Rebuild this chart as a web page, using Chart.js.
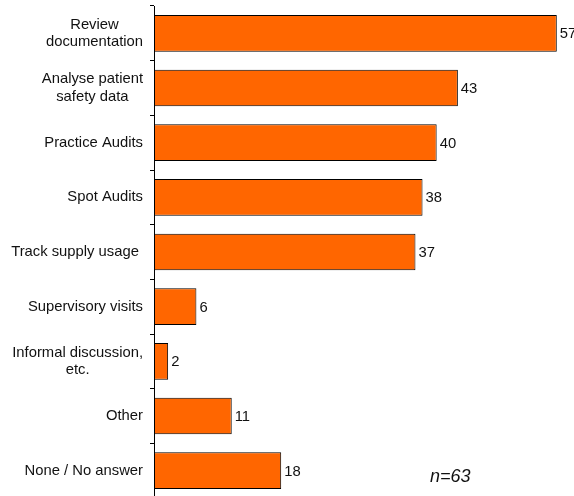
<!DOCTYPE html>
<html>
<head>
<meta charset="utf-8">
<script src="https://cdn.jsdelivr.net/npm/chart.js@4/dist/chart.umd.min.js"></script>
<style>
  html, body { margin: 0; padding: 0; background: #fff; overflow: hidden; }
  #wrap { width: 580px; height: 500px; }
</style>
</head>
<body>
<div id="wrap"><canvas id="activityChart"></canvas></div>
<script>
const categories = [
    ['Review', 'documentation'],
    ['Analyse patient', 'safety data'],
    'Practice Audits',
    'Spot Audits',
    'Track supply usage ',
    'Supervisory visits',
    ['Informal discussion,', 'etc.'],
    'Other',
    'None / No answer'
];
const counts = [57, 43, 40, 38, 37, 6, 2, 11, 18];
const sampleNote = 'n=63';

const labelFont = "'Liberation Sans', Arial, sans-serif";
const fontSize = 14.8;
const lineGap = 17.3;

// Category labels: block right-aligned to the axis, lines centred in the block
const categoryLabels = {
    id: 'categoryLabels',
    afterDraw(chart) {
        const ctx = chart.ctx;
        const yScale = chart.scales.y;
        const right = yScale.right - 4 - 7;
        ctx.save();
        ctx.font = `${fontSize}px ${labelFont}`;
        ctx.fillStyle = '#111';
        ctx.textAlign = 'center';
        ctx.textBaseline = 'middle';
        categories.forEach((label, i) => {
            const lines = Array.isArray(label) ? label : [label];
            const blockW = Math.max(...lines.map(l => ctx.measureText(l).width));
            const cx = right - blockW / 2;
            const y0 = yScale.getPixelForTick(i) - (lines.length - 1) * lineGap / 2;
            lines.forEach((line, j) => ctx.fillText(line, cx, y0 + j * lineGap));
        });
        ctx.restore();
    }
};

// Value labels next to each bar, plus the sample size note
const valueLabels = {
    id: 'valueLabels',
    afterDatasetsDraw(chart) {
        const ctx = chart.ctx;
        const meta = chart.getDatasetMeta(0);
        ctx.save();
        ctx.font = `${fontSize}px ${labelFont}`;
        ctx.fillStyle = '#111';
        ctx.textAlign = 'left';
        ctx.textBaseline = 'middle';
        meta.data.forEach((bar, i) => {
            ctx.fillText(String(counts[i]), bar.x + 3, bar.y + 1);
        });
        ctx.font = `italic 18px ${labelFont}`;
        ctx.textBaseline = 'alphabetic';
        ctx.fillText(sampleNote, 430, 482);
        ctx.restore();
    }
};

new Chart(document.getElementById('activityChart'), {
    type: 'bar',
    data: {
        labels: categories,
        datasets: [{
            data: counts,
            backgroundColor: '#FF6600',
            borderColor: '#000',
            borderWidth: 1,
            borderSkipped: false,
            categoryPercentage: 1,
            barPercentage: 0.67
        }]
    },
    options: {
        indexAxis: 'y',
        responsive: true,
        maintainAspectRatio: false,
        animation: false,
        layout: { padding: { top: 6, bottom: 2, right: 2 } },
        plugins: {
            legend: { display: false },
            tooltip: { enabled: false }
        },
        scales: {
            x: {
                display: false,
                min: 0,
                max: 60
            },
            y: {
                offset: true,
                afterFit: (scale) => {
                    scale.width = 154;
                    scale.paddingTop = 0;
                    scale.paddingBottom = 0;
                },
                border: { display: true, color: '#000', width: 1 },
                grid: {
                    offset: true,
                    drawOnChartArea: false,
                    drawTicks: true,
                    tickLength: 4,
                    color: '#000'
                },
                ticks: {
                    display: false
                }
            }
        }
    },
    plugins: [categoryLabels, valueLabels]
});
</script>
</body>
</html>
